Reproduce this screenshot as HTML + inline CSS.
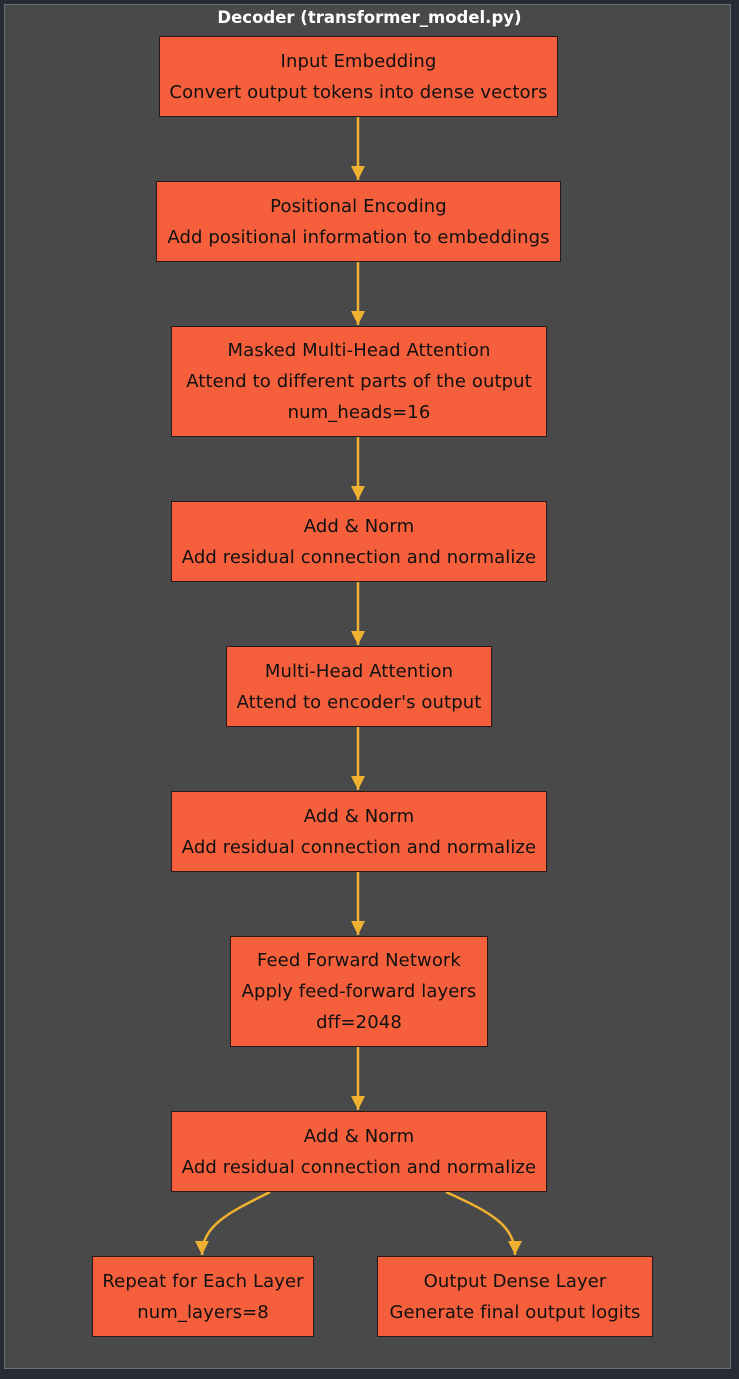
<!DOCTYPE html><html><head><style>
body{margin:0;width:739px;height:1379px;background:#282a36;overflow:hidden;font-family:"DejaVu Sans","Liberation Sans",sans-serif}
.c{position:absolute;left:4px;top:4px;width:725px;height:1363px;background:#484948;border:1px solid #6b6f7a}
.t{position:absolute;left:0;width:739px;top:8px;text-align:center;color:#fff;font-weight:bold;font-size:16.5px}
.n{position:absolute;background:#f55f3c;border:1px solid #2a1a17;box-sizing:border-box;display:flex;flex-direction:column;justify-content:center;align-items:center;font-size:18px;line-height:31px;color:#111;white-space:nowrap;letter-spacing:0.1px}
svg{position:absolute;left:0;top:0}
</style></head><body>
<div class="c"></div>
<div class="t">Decoder (transformer_model.py)</div>
<svg width="739" height="1379"><defs><marker id="a" markerWidth="16" markerHeight="16" refX="14" refY="7" orient="auto" markerUnits="userSpaceOnUse"><path d="M0,0L14,7L0,14z" fill="#f0b030"/></marker></defs>
<g stroke="#f0b030" stroke-width="2.5" fill="none" marker-end="url(#a)">
<path d="M358,116V180"/><path d="M358,261V325"/><path d="M358,436V500"/><path d="M358,581V645"/><path d="M358,726V790"/><path d="M358,871V935"/><path d="M358,1046V1110"/>
<path d="M270,1192C230,1212 202,1225 202,1255"/><path d="M446,1192C490,1212 515,1225 515,1255"/>
</g></svg>
<div class="n" style="left:159px;top:36px;width:399px;height:81px"><div>Input Embedding</div><div>Convert output tokens into dense vectors</div></div>
<div class="n" style="left:156px;top:181px;width:405px;height:81px"><div>Positional Encoding</div><div>Add positional information to embeddings</div></div>
<div class="n" style="left:171px;top:326px;width:376px;height:111px"><div>Masked Multi-Head Attention</div><div>Attend to different parts of the output</div><div>num_heads=16</div></div>
<div class="n" style="left:171px;top:501px;width:376px;height:81px"><div>Add &amp; Norm</div><div>Add residual connection and normalize</div></div>
<div class="n" style="left:226px;top:646px;width:266px;height:81px"><div>Multi-Head Attention</div><div>Attend to encoder's output</div></div>
<div class="n" style="left:171px;top:791px;width:376px;height:81px"><div>Add &amp; Norm</div><div>Add residual connection and normalize</div></div>
<div class="n" style="left:230px;top:936px;width:258px;height:111px"><div>Feed Forward Network</div><div>Apply feed-forward layers</div><div>dff=2048</div></div>
<div class="n" style="left:171px;top:1111px;width:376px;height:81px"><div>Add &amp; Norm</div><div>Add residual connection and normalize</div></div>
<div class="n" style="left:92px;top:1256px;width:222px;height:81px"><div>Repeat for Each Layer</div><div>num_layers=8</div></div>
<div class="n" style="left:377px;top:1256px;width:276px;height:81px"><div>Output Dense Layer</div><div>Generate final output logits</div></div>
</body></html>
